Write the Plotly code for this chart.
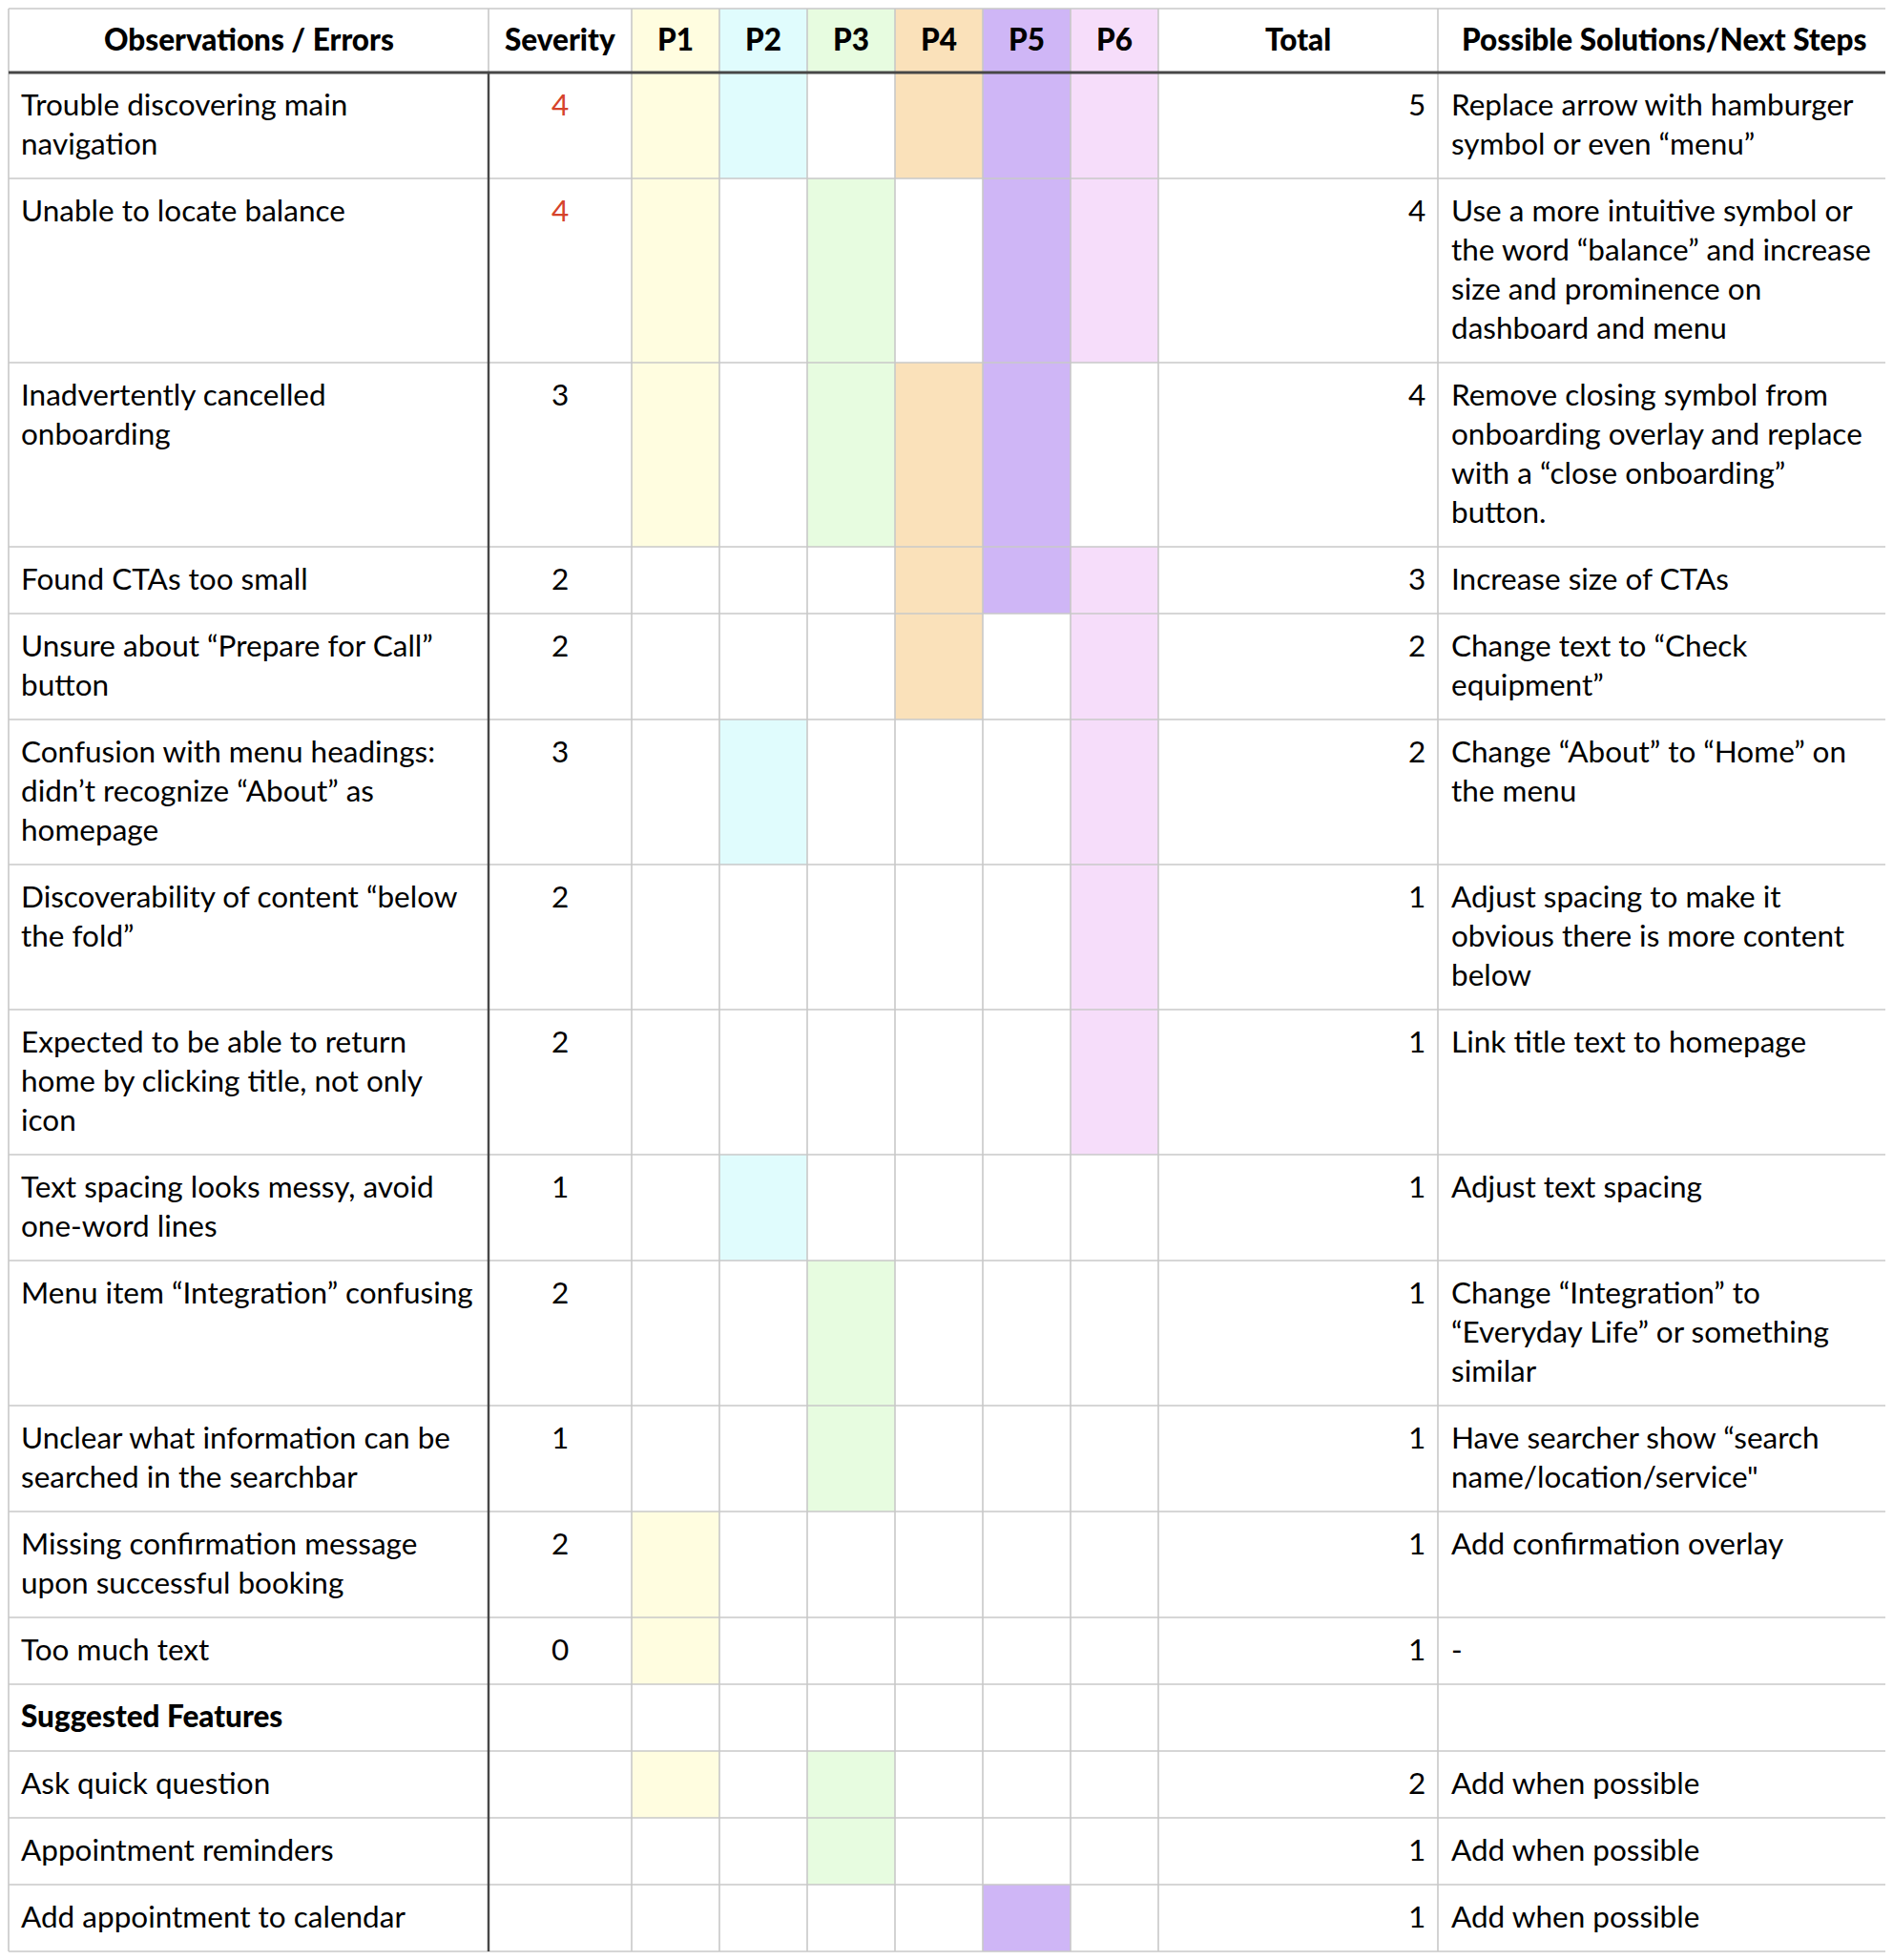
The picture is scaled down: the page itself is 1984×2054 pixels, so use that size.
import plotly.graph_objects as go

headers = ["Observations / Errors", "Severity", "P1", "P2", "P3", "P4", "P5", "P6",
           "Total", "Possible Solutions/Next Steps"]

participants = ["P1", "P2", "P3", "P4", "P5", "P6"]
participant_colors = ["#FFFDE0", "#E0FCFD", "#E7FCE0", "#FAE1BA", "#CFB6F6", "#F6DDFA"]

observations = [
    "Trouble discovering main\nnavigation",
    "Unable to locate balance\n\n\n",
    "Inadvertently cancelled\nonboarding\n\n",
    "Found CTAs too small",
    "Unsure about “Prepare for Call”\nbutton",
    "Confusion with menu headings:\ndidn’t recognize “About” as\nhomepage",
    "Discoverability of content “below\nthe fold”\n",
    "Expected to be able to return\nhome by clicking title, not only\nicon",
    "Text spacing looks messy, avoid\none-word lines",
    "Menu item “Integration” confusing\n\n",
    "Unclear what information can be\nsearched in the searchbar",
    "Missing confirmation message\nupon successful booking",
    "Too much text",
    "Suggested Features",
    "Ask quick question",
    "Appointment reminders",
    "Add appointment to calendar",
]

severity = ["4", "4", "3", "2", "2", "3", "2", "2", "1", "2", "1", "2", "0", "", "", "", ""]

# which participants ran into each issue (P1..P6)
flags = [
    [1, 1, 0, 1, 1, 1],
    [1, 0, 1, 0, 1, 1],
    [1, 0, 1, 1, 1, 0],
    [0, 0, 0, 1, 1, 1],
    [0, 0, 0, 1, 0, 1],
    [0, 1, 0, 0, 0, 1],
    [0, 0, 0, 0, 0, 1],
    [0, 0, 0, 0, 0, 1],
    [0, 1, 0, 0, 0, 0],
    [0, 0, 1, 0, 0, 0],
    [0, 0, 1, 0, 0, 0],
    [1, 0, 0, 0, 0, 0],
    [1, 0, 0, 0, 0, 0],
    [0, 0, 0, 0, 0, 0],
    [1, 0, 1, 0, 0, 0],
    [0, 0, 1, 0, 0, 0],
    [0, 0, 0, 0, 1, 0],
]

totals = ["5", "4", "4", "3", "2", "2", "1", "1", "1", "1", "1", "1", "1", "", "2", "1", "1"]

solutions = [
    "Replace arrow with hamburger\nsymbol or even “menu”",
    "Use a more intuitive symbol or\nthe word “balance” and increase\nsize and prominence on\ndashboard and menu",
    "Remove closing symbol from\nonboarding overlay and replace\nwith a “close onboarding”\nbutton.",
    "Increase size of CTAs",
    "Change text to “Check\nequipment”",
    "Change “About” to “Home” on\nthe menu\n",
    "Adjust spacing to make it\nobvious there is more content\nbelow",
    "Link title text to homepage",
    "Adjust text spacing",
    "Change “Integration” to\n“Everyday Life” or something\nsimilar",
    "Have searcher show “search\nname/location/service\"",
    "Add confirmation overlay",
    "-",
    "",
    "Add when possible",
    "Add when possible",
    "Add when possible",
]

section_rows = ["Suggested Features"]

# ---- layout constants ----
# the page body adds an 8px margin, so the figure is a bit smaller than the window
W, H = 1968, 2038
FONT = "Lato"
FS = 31.5
LINE_H = 41
PAD_V = 29
LEFT, TOP, HEAD_H = 1, 1, 67
col_widths = [503, 150, 92, 92, 92, 92, 92, 92, 293, 473]
GRID = "#C8C8C8"
DARK = "#474747"
RED = "#D6432B"

col_edges = [LEFT]
for w in col_widths:
    col_edges.append(col_edges[-1] + w)

# row height follows the tallest cell in the row
row_lines = []
for obs, sol in zip(observations, solutions):
    row_lines.append(max(len(obs.split("\n")), len(sol.split("\n"))))

row_edges = [TOP, TOP + HEAD_H]
for n in row_lines:
    row_edges.append(row_edges[-1] + PAD_V + LINE_H * n)
bottom = row_edges[-1]

fig = go.Figure()
shapes = []
annotations = []


def add_text(text, x, y, anchor, bold=False, color="#000000"):
    annotations.append(dict(
        x=x, y=y, xref="x", yref="y", text=text, showarrow=False,
        xanchor=anchor, yanchor="middle",
        font=dict(family=FONT, size=FS, color=color, weight=900 if bold else 400),
    ))


# header fills for participant columns
for j, color in enumerate(participant_colors):
    shapes.append(dict(type="rect", xref="x", yref="y", layer="below",
                       x0=col_edges[2 + j], x1=col_edges[3 + j],
                       y0=row_edges[0], y1=row_edges[1],
                       fillcolor=color, line=dict(width=0)))

# body fills where a participant hit the issue
for i, row in enumerate(flags):
    for j, hit in enumerate(row):
        if hit:
            shapes.append(dict(type="rect", xref="x", yref="y", layer="below",
                               x0=col_edges[2 + j], x1=col_edges[3 + j],
                               y0=row_edges[i + 1], y1=row_edges[i + 2],
                               fillcolor=participant_colors[j], line=dict(width=0)))

# header text
head_y = (row_edges[0] + row_edges[1]) / 2 - 2
for c, h in enumerate(headers):
    add_text(h, (col_edges[c] + col_edges[c + 1]) / 2, head_y, "center", bold=True)

# body text
for i in range(len(observations)):
    top = row_edges[i + 1]
    first = top + 33
    bold = observations[i] in section_rows
    for k, line in enumerate(observations[i].split("\n")):
        if line:
            add_text(line, col_edges[0] + 11, first + LINE_H * k, "left", bold=bold)
    if severity[i]:
        add_text(severity[i], (col_edges[1] + col_edges[2]) / 2, first, "center",
                 color=RED if severity[i] == "4" else "#000000")
    if totals[i]:
        add_text(totals[i], col_edges[9] - 11, first, "right")
    for k, line in enumerate(solutions[i].split("\n")):
        if line:
            add_text(line, col_edges[9] + 12, first + LINE_H * k, "left")

# grid lines
for y in row_edges:
    if y == row_edges[1]:
        continue
    shapes.append(dict(type="line", xref="x", yref="y", x0=col_edges[0], x1=col_edges[-1],
                       y0=y, y1=y, line=dict(color=GRID, width=1.6)))
for x in col_edges:
    shapes.append(dict(type="line", xref="x", yref="y", x0=x, x1=x,
                       y0=row_edges[0], y1=bottom, line=dict(color=GRID, width=1.6)))
# dark rule under the header and after the observations column
shapes.append(dict(type="line", xref="x", yref="y", x0=col_edges[0], x1=col_edges[-1],
                   y0=row_edges[1], y1=row_edges[1], line=dict(color=DARK, width=3)))
shapes.append(dict(type="line", xref="x", yref="y", x0=col_edges[1], x1=col_edges[1],
                   y0=row_edges[1], y1=bottom, line=dict(color=DARK, width=2.4)))

fig.update_layout(
    width=W, height=H,
    margin=dict(l=0, r=0, t=0, b=0),
    paper_bgcolor="white", plot_bgcolor="white",
    xaxis=dict(range=[0, W], visible=False, fixedrange=True),
    yaxis=dict(range=[H, 0], visible=False, fixedrange=True),
    shapes=shapes, annotations=annotations,
    showlegend=False,
)

fig.write_html("out.html")
